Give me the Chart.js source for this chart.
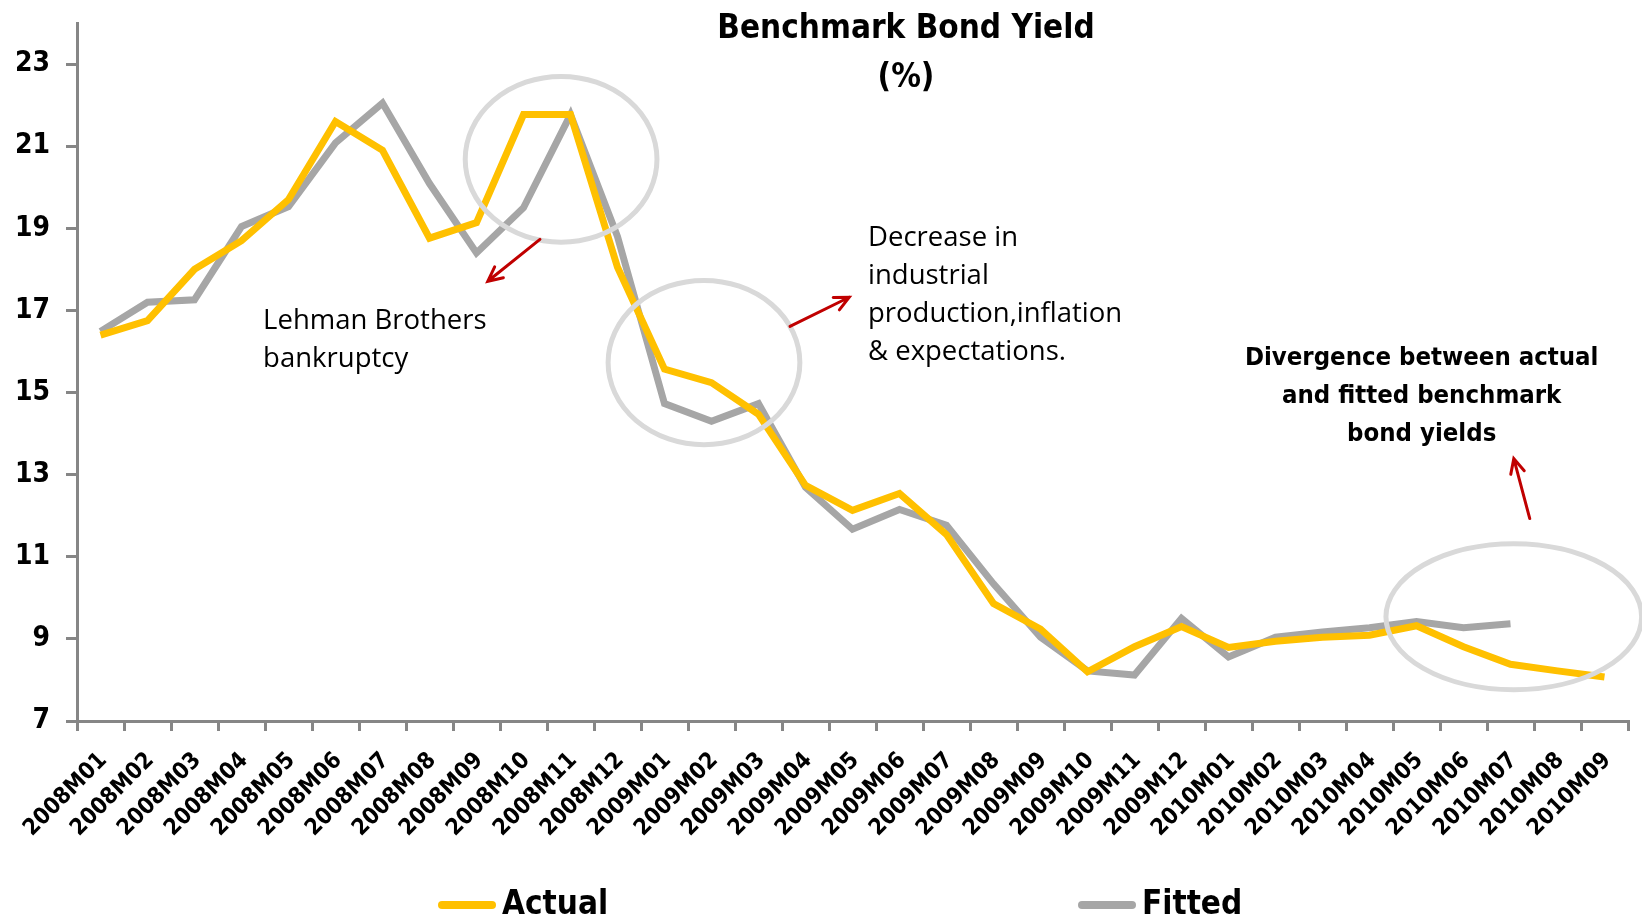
<!DOCTYPE html>
<html>
<head>
<meta charset="utf-8">
<script src="https://cdn.jsdelivr.net/npm/chart.js@4.4.1/dist/chart.umd.min.js"></script>
<style>
  html, body { margin: 0; padding: 0; background: #fff; }
  #wrap { width: 1642px; height: 920px; position: relative; }
</style>
</head>
<body>
<div id="wrap"><canvas id="myChart"></canvas></div>
<script>
// ---- data ----
const categories = [
  "2008M01", "2008M02", "2008M03", "2008M04", "2008M05", "2008M06", "2008M07", "2008M08", "2008M09", "2008M10", "2008M11", "2008M12",
  "2009M01", "2009M02", "2009M03", "2009M04", "2009M05", "2009M06", "2009M07", "2009M08", "2009M09", "2009M10", "2009M11", "2009M12",
  "2010M01", "2010M02", "2010M03", "2010M04", "2010M05", "2010M06", "2010M07", "2010M08", "2010M09"
];
const actualYield = [
  16.4, 16.75, 18.0, 18.7, 19.7, 21.6, 20.9, 18.76, 19.14, 21.77, 21.77, 18.05,
  15.57, 15.24, 14.47, 12.74, 12.13, 12.54, 11.54, 9.86, 9.24, 8.2, 8.81, 9.3,
  8.79, 8.94, 9.04, 9.09, 9.32, 8.81, 8.38, 8.22, 8.07
];
const fittedYield = [
  16.49, 17.2, 17.26, 19.04, 19.53, 21.08, 22.05, 20.09, 18.4, 19.5, 21.77, 18.8,
  14.73, 14.3, 14.73, 12.69, 11.67, 12.15, 11.77, 10.34, 9.04, 8.22, 8.12, 9.5,
  8.56, 9.04, 9.17, 9.27, 9.42, 9.27, 9.37, null, null
];
const yTicks = [7, 9, 11, 13, 15, 17, 19, 21, 23];
const titleLines = ["Benchmark Bond Yield", "(%)"];

// annotations (x = category index, y = yield value)
const circles = [
  { x: 9.8, y: 20.68, rx: 2.04, ry: 2.02 },
  { x: 12.84, y: 15.73, rx: 2.04, ry: 2.0 },
  { x: 30.07, y: 9.54, rx: 2.72, ry: 1.78 }
];
const arrows = [
  { from: [9.35, 18.73], to: [8.24, 17.71] },
  { from: [14.67, 16.61], to: [15.93, 17.32] },
  { from: [30.41, 11.93], to: [30.07, 13.39] }
];
const notes = [
  { x: 3.46, y: 16.73, align: "left", bold: false, lines: ["Lehman Brothers", "bankruptcy"] },
  { x: 16.33, y: 18.76, align: "left", bold: false, lines: ["Decrease in", "industrial", "production,inflation", "& expectations."] },
  { x: 28.11, y: 15.83, align: "center", bold: true, lines: ["Divergence between actual", "and fitted benchmark", "bond yields"] }
];

const BOLD_FONT = "'DejaVu Sans Condensed', 'Liberation Sans Narrow', sans-serif";
const AXIS_GREY = "#868686";

// ---- drawing helpers ----
const annotationPlugin = {
  id: "annotations",
  afterDatasetsDraw(chart) {
    const ctx = chart.ctx;
    const xs = chart.scales.x, ys = chart.scales.y;
    const px = i => xs.getPixelForValue(i);
    const py = v => ys.getPixelForValue(v);
    const step = px(1) - px(0);
    const unit = py(0) - py(1);

    ctx.save();
    // circles
    ctx.strokeStyle = "#d9d9d9";
    ctx.lineWidth = 5;
    circles.forEach(c => {
      ctx.beginPath();
      ctx.ellipse(px(c.x), py(c.y), c.rx * step, c.ry * unit, 0, 0, Math.PI * 2);
      ctx.stroke();
    });

    // arrows
    ctx.strokeStyle = "#c00000";
    ctx.lineWidth = 3;
    ctx.lineCap = "round";
    arrows.forEach(a => {
      const x1 = px(a.from[0]), y1 = py(a.from[1]);
      const x2 = px(a.to[0]), y2 = py(a.to[1]);
      const ang = Math.atan2(y2 - y1, x2 - x1);
      const head = 16;
      ctx.beginPath();
      ctx.moveTo(x1, y1);
      ctx.lineTo(x2, y2);
      ctx.moveTo(x2 - head * Math.cos(ang - 0.45), y2 - head * Math.sin(ang - 0.45));
      ctx.lineTo(x2, y2);
      ctx.lineTo(x2 - head * Math.cos(ang + 0.45), y2 - head * Math.sin(ang + 0.45));
      ctx.stroke();
    });

    // text notes
    ctx.fillStyle = "#000";
    ctx.textBaseline = "middle";
    notes.forEach(n => {
      ctx.font = n.bold ? "bold 25.5px " + BOLD_FONT : "27.5px 'Open Sans', sans-serif";
      ctx.textAlign = n.align;
      n.lines.forEach((t, k) => ctx.fillText(t, px(n.x), py(n.y) + k * 38));
    });

    // title
    ctx.font = "bold 33px " + BOLD_FONT;
    ctx.textAlign = "center";
    titleLines.forEach((t, k) => ctx.fillText(t, 906, 29 + k * 49));

    // legend
    const slots = [442, 1082];
    ctx.font = "bold 33px " + BOLD_FONT;
    ctx.textAlign = "left";
    chart.data.datasets.forEach((ds, k) => {
      const x = slots[k], y = 905;
      ctx.strokeStyle = ds.borderColor;
      ctx.lineWidth = 8;
      ctx.lineCap = "round";
      ctx.beginPath();
      ctx.moveTo(x, y);
      ctx.lineTo(x + 50, y);
      ctx.stroke();
      ctx.fillText(ds.label, x + 60, y);
    });
    ctx.restore();
  }
};

const ctx = document.getElementById("myChart").getContext("2d");
const chart = new Chart(ctx, {
  type: "line",
  data: {
    labels: categories,
    datasets: [
      { label: "Actual", data: actualYield, borderColor: "#ffc000", borderWidth: 7, pointRadius: 0, tension: 0 },
      { label: "Fitted", data: fittedYield, borderColor: "#a6a6a6", borderWidth: 7, pointRadius: 0, tension: 0 }
    ]
  },
  options: {
    responsive: true,
    maintainAspectRatio: false,
    animation: false,
    layout: { padding: { top: 23, right: 14, left: 0, bottom: 0 } },
    plugins: { legend: { display: false }, title: { display: false }, tooltip: { enabled: false } },
    scales: {
      x: {
        offset: true,
        grid: { offset: true, drawOnChartArea: false, drawTicks: true, tickLength: 10, color: AXIS_GREY, lineWidth: 3 },
        border: { color: AXIS_GREY, width: 3 },
        ticks: {
          autoSkip: false, maxRotation: 45, minRotation: 45, labelOffset: 3, padding: 16,
          color: "#000", font: { family: BOLD_FONT, size: 23, weight: "bold" }
        },
        afterFit: s => { s.height = 199; s.paddingLeft = 0; s.paddingRight = 0; }
      },
      y: {
        min: 7, max: 24,
        afterBuildTicks: s => { s.ticks = yTicks.map(v => ({ value: v })); },
        grid: { drawOnChartArea: false, drawTicks: true, tickLength: 11, color: AXIS_GREY, lineWidth: 3 },
        border: { color: AXIS_GREY, width: 3 },
        ticks: { padding: 16, color: "#000", font: { family: BOLD_FONT, size: 28, weight: "bold" } },
        afterFit: s => { s.width = 77; s.paddingTop = 0; }
      }
    }
  },
  plugins: [annotationPlugin]
});
</script>
</body>
</html>
